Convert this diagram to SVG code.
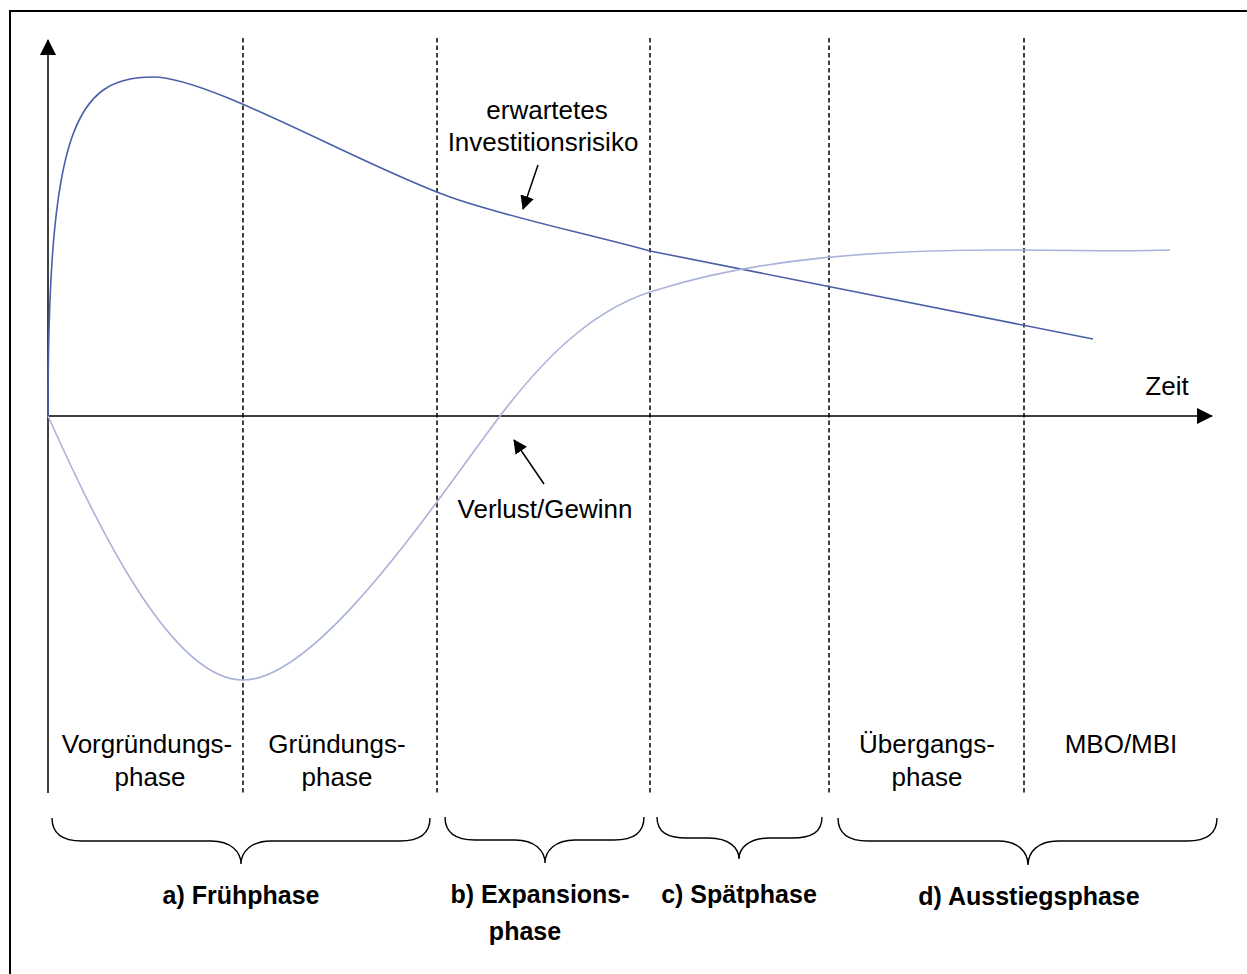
<svg xmlns="http://www.w3.org/2000/svg" width="1247" height="974" viewBox="0 0 1247 974">
<style>
.t{font-family:"Liberation Sans",Arial,sans-serif;font-size:26px;fill:#000;text-anchor:middle}
.b{font-family:"Liberation Sans",Arial,sans-serif;font-size:25px;font-weight:bold;fill:#000;text-anchor:middle}
.ax{stroke:#000;stroke-width:1.5;fill:none}
.dash{stroke:#111;stroke-width:1.6;stroke-dasharray:4.5 3;fill:none}
.brace{stroke:#000;stroke-width:1.4;fill:none}
.risk{stroke:#4a5fa8;stroke-width:1.6;fill:none}
.gain{stroke:#aab2da;stroke-width:1.6;fill:none}
</style>
<defs>
<marker id="ah" markerWidth="16" markerHeight="16" refX="15" refY="8" orient="auto" markerUnits="userSpaceOnUse" viewBox="0 0 16 16">
<path d="M0,0 L16,8 L0,16 Z" fill="#000"/>
</marker>
<marker id="ah2" markerWidth="14" markerHeight="14" refX="13" refY="7" orient="auto" markerUnits="userSpaceOnUse" viewBox="0 0 14 14">
<path d="M0,0 L14,7 L0,14 Z" fill="#000"/>
</marker>
</defs>
<rect width="1247" height="974" fill="#fff"/>
<g id="frame">
<path d="M10,974 L10,11 L1247,11" stroke="#000" stroke-width="2" fill="none"/>
</g>
<g id="grid">
<line class="dash" x1="243" y1="38" x2="243" y2="793"/>
<line class="dash" x1="437" y1="38" x2="437" y2="793"/>
<line class="dash" x1="650" y1="38" x2="650" y2="793"/>
<line class="dash" x1="829" y1="38" x2="829" y2="793"/>
<line class="dash" x1="1024" y1="38" x2="1024" y2="793"/>
</g>
<g id="axes">
<line class="ax" x1="48" y1="793" x2="48" y2="40" marker-end="url(#ah)"/>
<line class="ax" x1="48" y1="416" x2="1212" y2="416" marker-end="url(#ah)"/>
</g>
<g id="curves">
<path id="risk-curve" class="risk" d="M48,416 C48,130 75,77 153,77 C210,77 360,165 450,197 C510,218 580,232 650,251 C800,282 950,312 1093,339"/>
<path id="gain-curve" class="gain" d="M48,416 C95,520 170,680 243,680 C320,680 440,495 500,416 C550,350 600,305 660,289 C760,258 880,250 1000,250 C1080,250 1120,252 1170,250"/>
</g>
<g id="connectors">
<line class="ax" x1="538" y1="165" x2="523" y2="209" marker-end="url(#ah2)"/>
<line class="ax" x1="544" y1="484" x2="514" y2="440" marker-end="url(#ah2)"/>
</g>
<g id="label-risk">
<text class="t" x="547" y="119">erwartetes</text>
<text class="t" x="543" y="151">Investitionsrisiko</text>
</g>
<g id="label-gain">
<text class="t" x="545" y="518">Verlust/Gewinn</text>
</g>
<g id="label-zeit">
<text class="t" x="1167" y="395">Zeit</text>
</g>
<g id="phase-vorgruendung">
<text class="t" x="147" y="753">Vorgründungs-</text>
<text class="t" x="150" y="786">phase</text>
</g>
<g id="phase-gruendung">
<text class="t" x="337" y="753">Gründungs-</text>
<text class="t" x="337" y="786">phase</text>
</g>
<g id="phase-uebergang">
<text class="t" x="927" y="753">Übergangs-</text>
<text class="t" x="927" y="786">phase</text>
</g>
<g id="phase-mbo">
<text class="t" x="1121" y="753">MBO/MBI</text>
</g>
<g id="braces">
<path class="brace" d="M52,818 C52,834 62,841 82,841 L211,841 C231,841 241,852 241,864 C241,852 251,841 271,841 L400,841 C420,841 430,834 430,818"/>
<path class="brace" d="M445,817 C445,833 455,840 475,840 L515,840 C535,840 545,851 545,863 C545,851 555,840 575,840 L614,840 C634,840 644,833 644,817"/>
<path class="brace" d="M657,817 C657,832 667,838 687,838 L709,838 C729,838 739,848 739,859 C739,848 749,838 769,838 L792,838 C812,838 822,832 822,817"/>
<path class="brace" d="M838,818 C838,834 848,841 868,841 L998,841 C1018,841 1028,852 1028,865 C1028,852 1038,841 1058,841 L1187,841 C1207,841 1217,834 1217,818"/>
</g>
<g id="group-a">
<text class="b" x="241" y="904">a) Frühphase</text>
</g>
<g id="group-b">
<text class="b" x="540" y="903">b) Expansions-</text>
<text class="b" x="525" y="940">phase</text>
</g>
<g id="group-c">
<text class="b" x="739" y="903">c) Spätphase</text>
</g>
<g id="group-d">
<text class="b" x="1029" y="905">d) Ausstiegsphase</text>
</g>
</svg>
